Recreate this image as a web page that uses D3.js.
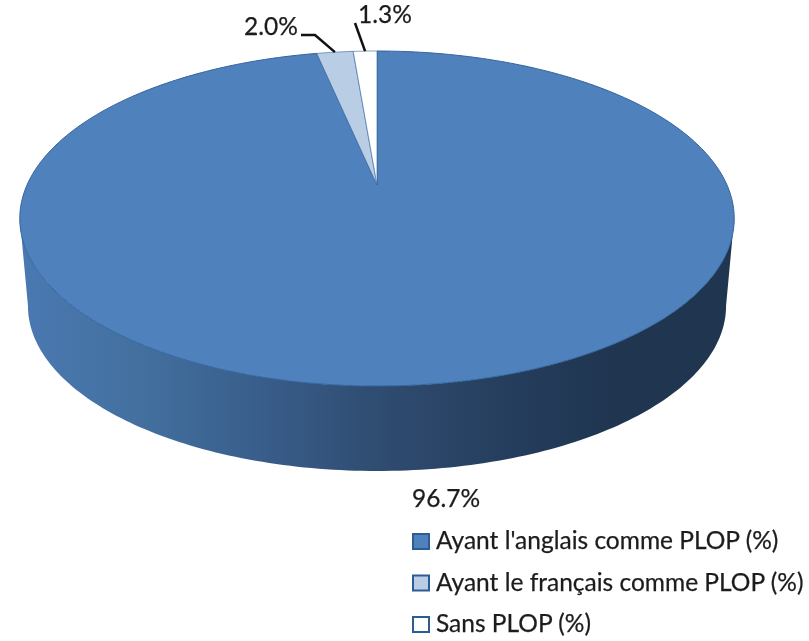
<!DOCTYPE html>
<html><head><meta charset="utf-8">
<script src="https://cdn.jsdelivr.net/npm/d3@7"></script>
<style>html,body{margin:0;padding:0;background:#fff}svg{display:block;filter:blur(.5px)}text{font-family:Lato,"Open Sans",sans-serif;fill:#1c1c1c;stroke:#1c1c1c;stroke-width:.25px}</style>
</head><body><svg id="c" width="809" height="641"></svg>
<script>
const categories = ["Ayant l'anglais comme PLOP (%)", "Ayant le français comme PLOP (%)", "Sans PLOP (%)"];
const values = [96.7, 2.0, 1.3];
const valueLabels = ["96.7%", "2.0%", "1.3%"];
const fills = ["#4f81bd", "#b9cde5", "#ffffff"];
const wallStops = ["#4a79b2", "#43709f", "#395e8b", "#2f4c71", "#263f5f", "#1f3550", "#1f3550"];

const svg = d3.select("#c");
const defs = svg.append("defs");
const grad = defs.append("linearGradient").attr("id", "wall").attr("gradientUnits", "userSpaceOnUse")
  .attr("x1", 20).attr("x2", 735).attr("y1", 0).attr("y2", 0);
wallStops.forEach((c, i) => grad.append("stop").attr("offset", i / (wallStops.length - 1)).attr("stop-color", c));

// Perspective disc: far side is foreshortened, so the apex sits above the ellipse centre
const topRim = {ax: 377, ay: 185, rx: 350, ry: 160.8, k: 0.2};
const lowRim = {ax: 377, ay: 273, rx: 342, ry: 158.4, k: 0.2};
const project = (d, a) => {
  const w = 1 + d.k * Math.cos(a);
  return [d.ax + d.rx * Math.sin(a) / w, d.ay - d.ry * Math.cos(a) / w];
};
const line = d3.line();
const pie = d3.pie().sort(null)(values);

// Side wall: front half of the disc between both rims
const aStart = Math.PI / 2 + 0.2, aEnd = 3 * Math.PI / 2 - 0.2;
const frontAngles = d3.range(aStart, aEnd + 0.001, (aEnd - aStart) / 160);
const wallPts = frontAngles.map(a => project(topRim, a))
  .concat(frontAngles.slice().reverse().map(a => project(lowRim, a)));
svg.append("path").attr("d", line(wallPts) + "Z").attr("fill", "url(#wall)");

// Top face
pie.forEach((s, i) => {
  const n = Math.max(8, Math.ceil((s.endAngle - s.startAngle) * 60));
  const pts = d3.range(n + 1).map(j => project(topRim, s.startAngle + (s.endAngle - s.startAngle) * j / n));
  pts.push([topRim.ax, topRim.ay]);
  svg.append("path").attr("d", line(pts) + "Z")
    .attr("fill", fills[i]).attr("stroke", "#33649e").attr("stroke-width", i === 0 ? 1 : 0.6)
    .attr("stroke-linejoin", "round");
});

// Data labels and leader lines
const mid = s => (s.startAngle + s.endAngle) / 2;
const fs = 24.5;
const labelAt = [[412, 507, null], [244, 35, [[301, 35], [315, 35]]], [358, 23, [[355, 23]]]];
pie.forEach((s, i) => {
  const [x, y, lead] = labelAt[i];
  svg.append("text").attr("x", x).attr("y", y).attr("font-size", fs).text(valueLabels[i]);
  if (lead) {
    const rim = project(topRim, mid(s));
    svg.append("path").attr("d", line(lead.concat([rim]))).attr("fill", "none")
      .attr("stroke", "#111").attr("stroke-width", 2.5);
  }
});

// Legend
const legendY = d3.scalePoint().domain(categories).range([549, 632]);
categories.forEach((c, i) => {
  const y = legendY(c);
  svg.append("rect").attr("x", 413).attr("y", y - 15).attr("width", 16).attr("height", 15)
    .attr("fill", fills[i]).attr("stroke", "#2c5c96").attr("stroke-width", 2);
  svg.append("text").attr("x", 436).attr("y", y).attr("font-size", fs).text(c);
});
</script></body></html>
